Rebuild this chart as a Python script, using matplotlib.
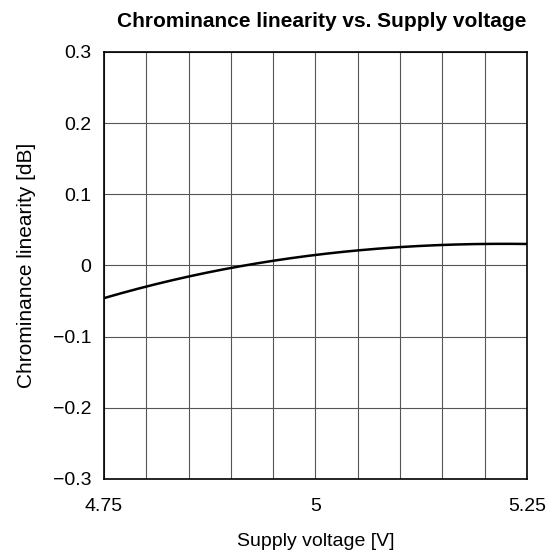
import matplotlib
matplotlib.use("Agg")
import matplotlib.pyplot as plt
import numpy as np

plt.rcParams['font.family'] = ['Liberation Sans', 'DejaVu Sans']

voltage = [4.75, 4.80, 4.85, 4.90, 4.95, 5.00, 5.05, 5.10, 5.15, 5.20, 5.25]
linearity = [-0.046, -0.0295, -0.0155, -0.0033, 0.007, 0.0146, 0.0207, 0.0253, 0.0291, 0.0315, 0.0295]
xticks = [4.75, 5.0, 5.25]
xtick_labels = ["4.75", "5", "5.25"]
yticks = [-0.3, -0.2, -0.1, 0.0, 0.1, 0.2, 0.3]
ytick_labels = ["\u22120.3", "\u22120.2", "\u22120.1", "0", "0.1", "0.2", "0.3"]

fig = plt.figure(figsize=(5.55, 5.56), dpi=100)
ax = fig.add_axes([0.1874, 0.1385, 0.762, 0.768])

# smooth curve through read points
coef = np.polyfit(voltage, linearity, 3)
xs = np.linspace(voltage[0], voltage[-1], 200)
ax.plot(xs, np.polyval(coef, xs), color='black', lw=1.8, zorder=3)

ax.set_xlim(4.75, 5.25)
ax.set_ylim(-0.3, 0.3)
ax.set_xticks(xticks)
ax.set_xticklabels(xtick_labels)
ax.set_xticks(np.arange(4.75, 5.2501, 0.05), minor=True)
ax.set_yticks(yticks)
ax.set_yticklabels(ytick_labels)
ax.grid(True, which='both', color='#555555', lw=0.8)
ax.tick_params(which='both', length=0, labelsize=14)
ax.tick_params(axis='x', pad=14)
ax.tick_params(axis='y', pad=9)
for s in ax.spines.values():
    s.set_linewidth(1.2)
    s.set_color('black')

ax.set_xlabel("Supply voltage [V]", fontsize=14, labelpad=13)
ax.set_ylabel("Chrominance linearity [dB]", fontsize=15, labelpad=12)
ax.set_title("Chrominance linearity vs. Supply voltage", fontsize=15, fontweight='bold', pad=18, x=0.514)

fig.savefig("out.png", dpi=100)
